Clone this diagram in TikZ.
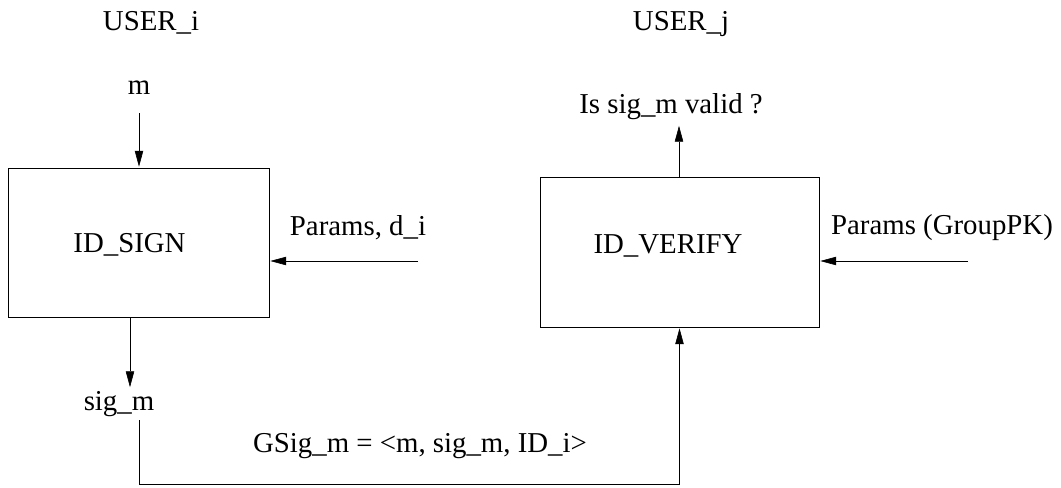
\documentclass[tikz,border=0pt]{standalone}
\usepackage{fontspec}
\setmainfont{Liberation Serif}
\usetikzlibrary{positioning, arrows.meta}

\begin{document}
\begin{tikzpicture}[font=\fontsize{20.5}{24}\selectfont]\tikzset{line width=0.7pt, arr/.style={-{Triangle[length=4.2mm,width=2.2mm]}}, box/.style={draw, rectangle, inner sep=0pt}, txt/.style={inner sep=0pt, anchor=base}}
	\useasboundingbox (0,0) rectangle (26.525,-12.175);
	\node[txt] (useri) at (3.775,-0.75) {USER\_i};
	\node[txt] (userj) at (17.025,-0.75) {USER\_j};
	\node[txt] (m) at (3.475,-2.35) {m};
	\node[txt] (valid) at (16.775,-2.825) {Is sig\_m valid ?};
	\node[box, minimum width=6.525cm, minimum height=3.725cm] (sign) at (3.4625,-6.0625) {};
	\node[box, minimum width=6.975cm, minimum height=3.75cm] (verify) at (16.9875,-6.3) {};
	\node[txt] (signlbl) at (3.2375,-6.3) {ID\_SIGN};
	\node[txt] (verifylbl) at (16.7,-6.325) {ID\_VERIFY};
	\node[txt] (pdi) at (8.95,-5.875) {Params, d\_i};
	\node[txt] (pgpk) at (23.55,-5.85) {Params (GroupPK)};
	\node[txt] (sigm) at (2.975,-10.25) {sig\_m};
	\node[txt] (gsig) at (10.5,-11.3) {GSig\_m = <m, sig\_m, ID\_i>};
	\coordinate (min) at (3.475,-2.825);
	\coordinate (vout) at (16.975,-3.125);
	\coordinate (pdin) at (10.45,-6.525);
	\coordinate (gpkin) at (24.2,-6.525);
	\coordinate (sigout) at (3.25,-9.7);
	\coordinate (gsigin) at (3.475,-10.5);
	\draw[arr] (min) -- (min |- sign.north);
	\draw[arr] (pdin) -- (pdin -| sign.east);
	\draw[arr] (sign.south -| sigout) -- (sigout);
	\draw[arr] (gsigin) -- ++(0,-1.6) -| (verify.south);
	\draw[arr] (gpkin) -- (gpkin -| verify.east);
	\draw[arr] (vout |- verify.north) -- (vout);\end{tikzpicture}
\end{document}
